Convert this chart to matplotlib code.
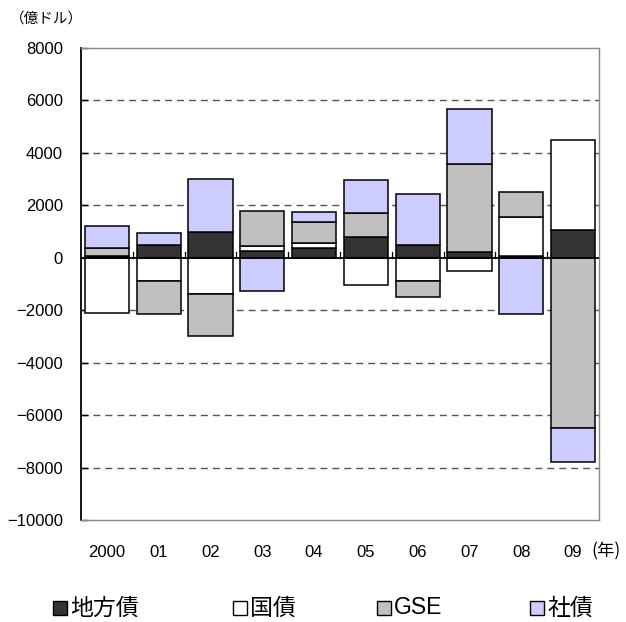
import numpy as np
import matplotlib
matplotlib.use("Agg")
import matplotlib.pyplot as plt
from matplotlib.patches import Rectangle

plt.rcParams['font.family'] = ['Liberation Sans', 'Noto Sans CJK JP', 'DejaVu Sans']

# Net issuance by bond type (100 million USD)
years = ['2000', '01', '02', '03', '04', '05', '06', '07', '08', '09']
series_names = ['地方債', '国債', 'GSE', '社債']
municipal = [50, 500, 1000, 270, 380, 790, 500, 230, 50, 1050]
treasury = [-2100, -900, -1400, 180, 190, -1050, -870, -500, 1500, 3450]
gse = [320, -1250, -1600, 1330, 780, 920, -610, 3340, 970, -6500]
corporate = [850, 430, 2000, -1270, 380, 1250, 1950, 2100, -2150, -1280]
yticks = [8000, 6000, 4000, 2000, 0, -2000, -4000, -6000, -8000, -10000]

colors = ['#333333', '#FFFFFF', '#C0C0C0', '#CCCCFF']
series = [municipal, treasury, gse, corporate]

W, H = 626, 622
fig = plt.figure(figsize=(W / 100, H / 100), dpi=100)
ax = fig.add_axes([81 / W, 1 - 520 / H, (599 - 81) / W, (520 - 48) / H])

x = np.arange(len(years))
pos_base = np.zeros(len(years))
neg_base = np.zeros(len(years))
for vals, col in zip(series, colors):
    v = np.array(vals, dtype=float)
    bottoms = np.where(v >= 0, pos_base, neg_base)
    ax.bar(x, v, bottom=bottoms, width=0.85, color=col, edgecolor='black',
           linewidth=1.1, zorder=3)
    pos_base += np.where(v >= 0, v, 0)
    neg_base += np.where(v < 0, v, 0)

ax.set_xlim(-0.5, len(years) - 0.5)
ax.set_ylim(-10000, 8000)

# dashed grid
for yv in yticks:
    if yv not in (0, 8000, -10000):
        ax.axhline(yv, color='#555555', lw=1.0, dashes=(5, 3.6), zorder=1)

# category axis at zero with boundary ticks pointing up
ax.axhline(0, color='black', lw=1.3, zorder=4)
for b in np.arange(0.5, len(years) - 0.5, 1.0):
    ax.plot([b, b], [0, 230], color='black', lw=0.9, zorder=2)

ax.set_yticks(yticks)
ax.set_yticklabels([f"{v}".replace('-', '\u2212') for v in yticks], fontsize=12)
ax.tick_params(axis='y', direction='in', length=5, width=1.0, pad=13)
ax.set_xticks(x)
ax.set_xticklabels(years, fontsize=12)
ax.tick_params(axis='x', length=0, pad=18)

for side in ('top', 'right', 'bottom'):
    ax.spines[side].set_color('#888888')
    ax.spines[side].set_linewidth(1.0)
ax.spines['left'].set_color('black')
ax.spines['left'].set_linewidth(1.3)

fig.text(591 / W, 1 - 551 / H, '(年)', fontsize=12.5, ha='left', va='center',
         family=['Noto Sans CJK JP'])
fig.text(10 / W, 1 - 19 / H, '（億ドル）', fontsize=10.5, ha='left', va='center')

# legend
leg_x = [53, 233, 377, 530]
leg_y = 608
sq = 14
for lx, name, col in zip(leg_x, series_names, colors):
    fig.patches.append(Rectangle((lx / W, 1 - (leg_y + sq / 2) / H), sq / W, sq / H,
                                 transform=fig.transFigure, facecolor=col,
                                 edgecolor='black', linewidth=1.0))
    fig.text((lx + sq + 3) / W, 1 - leg_y / H, name, fontsize=16.5,
             ha='left', va='center')

fig.savefig('out.png', dpi=100)
